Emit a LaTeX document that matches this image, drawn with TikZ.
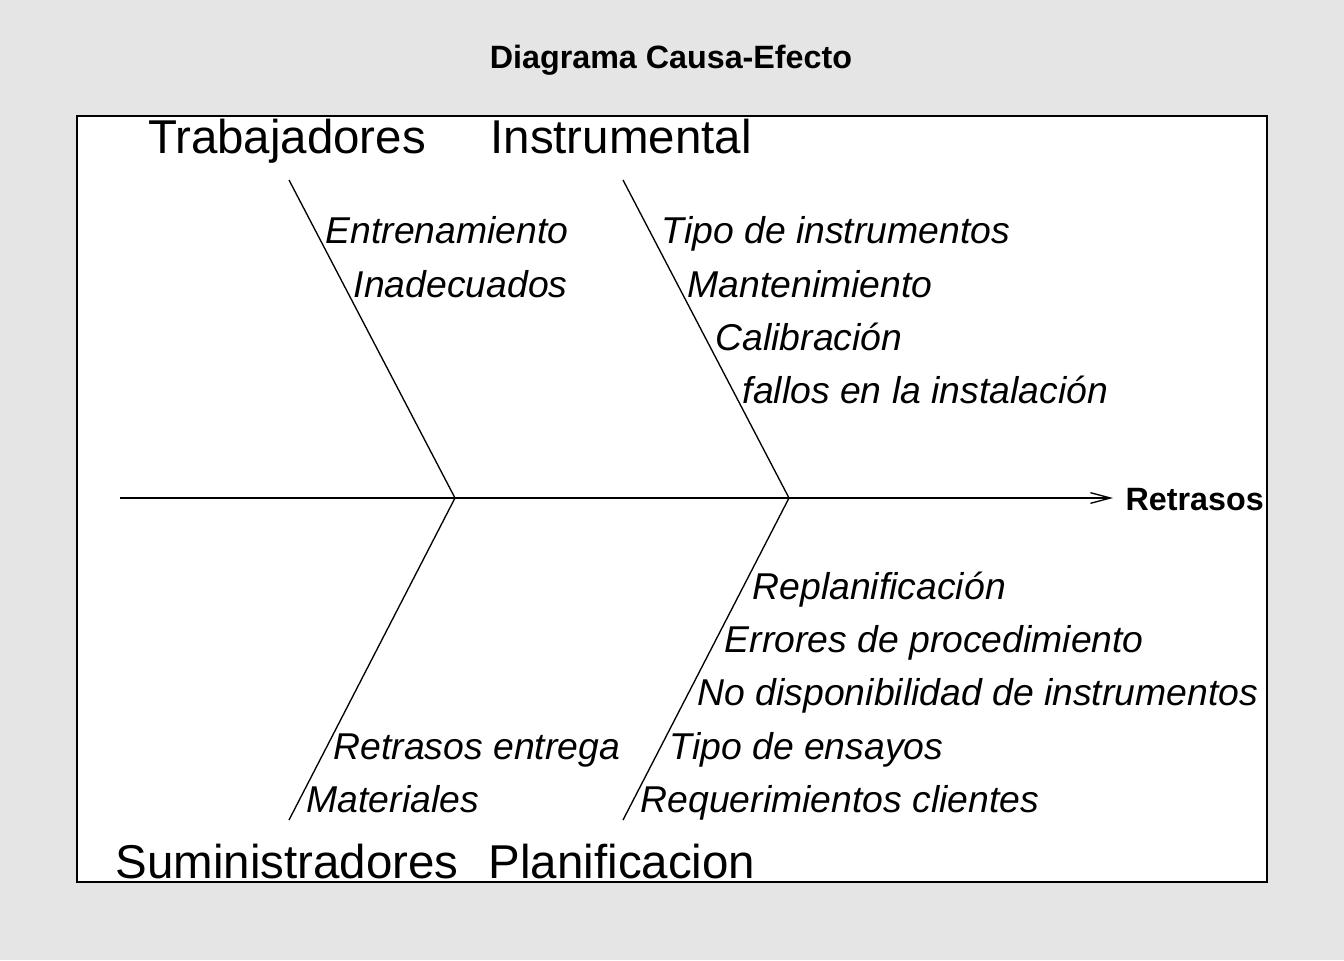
\documentclass[tikz,border=0pt]{standalone}
\usepackage{fontspec}
\setmainfont{Liberation Sans}
\usetikzlibrary{arrows.meta}
\definecolor{bggray}{gray}{0.898}

\begin{document}
\begin{tikzpicture}[x=0.75pt,y=-0.75pt,line width=1pt,
  cause/.style={anchor=base west,inner sep=0pt,font=\itshape\fontsize{28pt}{30pt}\selectfont},
  group/.style={anchor=base,inner sep=0pt,font=\fontsize{35.6pt}{38pt}\selectfont},
  heading/.style={inner sep=0pt,font=\bfseries\fontsize{24.2pt}{26pt}\selectfont}]
  \fill[bggray] (0,0) rectangle (1344,960);
  \draw[fill=white] (77,116) rectangle (1267,882);

  \node[heading,anchor=base] (title) at (671,68) {Diagrama Causa-Efecto};

  \coordinate (tail) at (120,498);
  \coordinate (tip) at (1113,498);
  \coordinate (j1) at (455,498);
  \coordinate (j2) at (789,498);
  \coordinate (t1) at (289,180);
  \coordinate (t2) at (623,180);
  \coordinate (b1) at (289,820);
  \coordinate (b2) at (623,820);
  \node[heading,anchor=base west] (effect) at (1125,510) {Retrasos};

  \node[group] (trab) at (287,153) {Trabajadores};
  \node[group] (instr) at (621,153) {Instrumental};
  \node[group] (sumin) at (287,878) {Suministradores};
  \node[group] (plan) at (622,878) {Planificacion};

  \node[cause] (c11) at (325,243) {Entrenamiento};
  \node[cause] (c12) at (353,297) {Inadecuados};
  \node[cause] (c21) at (661,243) {Tipo de instrumentos};
  \node[cause] (c22) at (687,297) {Mantenimiento};
  \node[cause] (c23) at (715,350) {Calibración};
  \node[cause] (c24) at (742,403) {fallos en la instalación};
  \node[cause] (c31) at (333,759) {Retrasos entrega};
  \node[cause] (c32) at (306,812) {Materiales};
  \node[cause] (c41) at (752,599) {Replanificación};
  \node[cause] (c42) at (724,652) {Errores de procedimiento};
  \node[cause] (c43) at (697,705) {No disponibilidad de instrumentos};
  \node[cause] (c44) at (669,759) {Tipo de ensayos};
  \node[cause] (c45) at (640,812) {Requerimientos clientes};

  \draw[-{Straight Barb[length=15pt,width=8pt]}] (tail) -- (tip);
  \path (j1) edge (t1);
  \path (j2) edge (t2);
  \path (j1) edge (b1);
  \path (j2) edge (b2);

\end{tikzpicture}
\end{document}
